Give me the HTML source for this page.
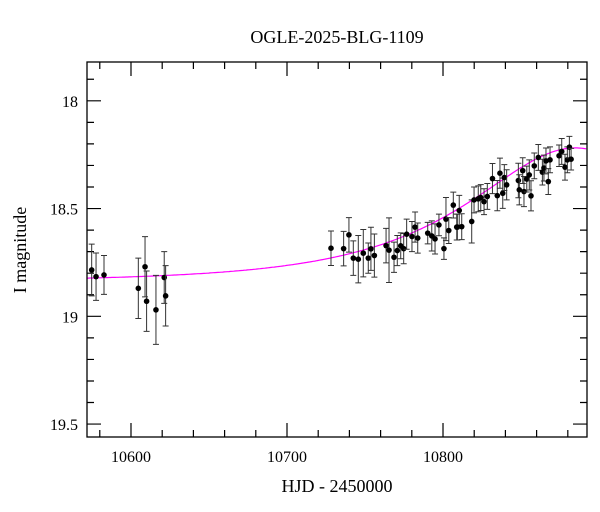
<!DOCTYPE html>
<html><head><meta charset="utf-8"><style>body{margin:0;background:#fff}svg{display:block}text{font-family:"Liberation Serif",serif;fill:#000}</style></head>
<body>
<svg id="chart" width="600" height="512" viewBox="0 0 600 512">
<text x="337" y="43" text-anchor="middle" font-size="18">OGLE-2025-BLG-1109</text>
<text x="337" y="492" text-anchor="middle" font-size="18">HJD - 2450000</text>
<text transform="translate(26,250) rotate(-90)" text-anchor="middle" font-size="18">I magnitude</text>
<g id="plot"></g>
<rect x="87" y="62" width="500" height="375" fill="none" stroke="#000" stroke-width="1.3"/>
</svg>
<script>
const days=[10574.8,10577.6,10582.7,10604.7,10609,10610,10616,10621.3,10622.2,
10728.2,10736.3,10739.7,10742.5,10745.7,10748.9,10752.1,10753.8,10756.0,10763.5,10765.4,10768.6,10770.7,10772.9,10774.8,10776.7,10780.1,10782.1,10783.8,10790.2,10792.8,10794.9,10797.4,10800.6,10801.9,10803.7,10806.6,10808.8,
10810.4,10809.2,10812.0,10818.4,10819.9,10822.6,10824.2,10826.3,10828.4,10831.7,10834.8,10836.5,10838.3,10839.3,10840.8,10848.3,10848.9,10851.1,10851.9,10853.7,10855.3,10856.4,10858.5,10861.1,10863.7,10864.7,10866.0,10867.5,10868.6,10874.4,10876.1,10878.2,10879.7,10881.0,10882.1];
const mags=[18.785,18.816,18.808,18.87,18.77,18.93,18.97,18.82,18.905,
18.684,18.686,18.622,18.730,18.735,18.707,18.730,18.687,18.718,18.672,18.693,18.726,18.695,18.673,18.686,18.619,18.630,18.586,18.637,18.614,18.627,18.641,18.576,18.686,18.549,18.602,18.484,18.586,
18.509,18.586,18.584,18.560,18.460,18.455,18.449,18.468,18.444,18.361,18.440,18.336,18.429,18.356,18.390,18.370,18.413,18.324,18.421,18.363,18.344,18.441,18.302,18.263,18.331,18.312,18.279,18.375,18.274,18.255,18.235,18.308,18.274,18.215,18.271];
const errs=[0.12,0.11,0.09,0.14,0.14,0.14,0.16,0.12,0.14,
0.08,0.08,0.08,0.08,0.11,0.11,0.07,0.1,0.1,0.08,0.15,0.07,0.07,0.06,0.07,0.07,0.07,0.07,0.07,0.05,0.07,0.07,0.05,0.05,0.1,0.06,0.06,0.06,
0.07,0.06,0.06,0.1,0.06,0.06,0.06,0.06,0.06,0.07,0.07,0.07,0.07,0.06,0.07,0.08,0.07,0.06,0.07,0.06,0.07,0.07,0.06,0.06,0.06,0.06,0.06,0.06,0.06,0.05,0.06,0.06,0.06,0.05,0.05];
const modelT0=[10885], modelTE=[105], modelU0=[0.65], modelBase=[18.84];
const xTicks=[10600,10700,10800];
const yTicks=[18,18.5,19,19.5];
const NS='http://www.w3.org/2000/svg';
const L=87,R=587,T=62,B=437,X0=10571.8,X1=10892.3,Y0=17.82,Y1=19.56;
const xs=d=>L+(d-X0)/(X1-X0)*(R-L);
const ys=m=>T+(m-Y0)/(Y1-Y0)*(B-T);
const g=document.getElementById('plot');
function mk(tag,at){const e=document.createElementNS(NS,tag);for(const k in at)e.setAttribute(k,at[k]);g.appendChild(e);return e;}
// ticks
for(let d=10580;d<=10880;d+=20){const maj=d%100===0;const len=maj?14:7;
 let t=mk('path',{d:`M${xs(d)},${B}v${-len}M${xs(d)},${T}v${len}`,stroke:'#000','stroke-width':1.2});
 }
for(let m=17.9;m<=19.55;m+=0.1){const mm=Math.round(m*10)/10;const maj=Math.abs(mm*2-Math.round(mm*2))<1e-6;const len=maj?14:7;
 let t=mk('path',{d:`M${L},${ys(mm)}h${len}M${R},${ys(mm)}h${-len}`,stroke:'#000','stroke-width':1.2});
 }
xTicks.forEach(d=>{const t=mk('text',{x:xs(d),y:B+25,'text-anchor':'middle','font-size':16});t.textContent=d;
 });
yTicks.forEach(m=>{const t=mk('text',{x:L-9,y:ys(m)+6,'text-anchor':'end','font-size':16});t.textContent=m;
 });
// model
let pts=[];for(let d=X0;d<=X1;d+=1){const u=Math.sqrt(modelU0[0]**2+((d-modelT0[0])/modelTE[0])**2);const A=(u*u+2)/(u*Math.sqrt(u*u+4));pts.push(xs(d).toFixed(1)+','+ys(modelBase[0]-2.5*Math.log10(A)).toFixed(1));}
const cv=mk('polyline',{points:pts.join(' '),fill:'none',stroke:'#ff00ff','stroke-width':1.2});

// data
days.forEach((d,i)=>{const x=xs(d),y1=ys(mags[i]-errs[i]),y2=ys(mags[i]+errs[i]);
 const e=mk('path',{d:`M${x},${y1}V${y2}M${x-3},${y1}h6M${x-3},${y2}h6`,stroke:'#333','stroke-width':1});
 
 const c=mk('circle',{cx:x,cy:ys(mags[i]),r:2.8,fill:'#000'});
 });
</script>
</body></html>
